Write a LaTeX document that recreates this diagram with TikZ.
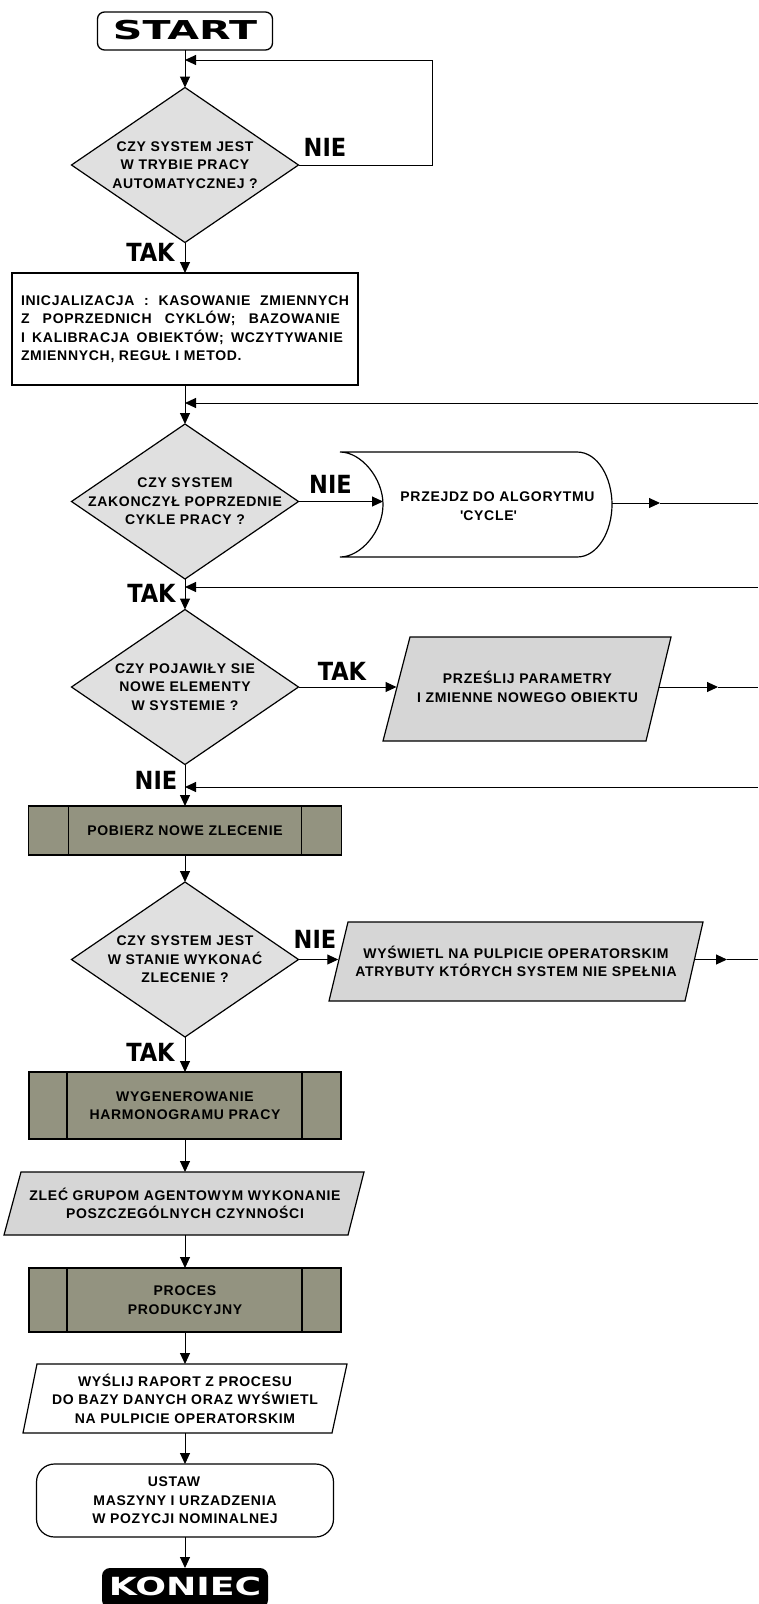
\documentclass[tikz,border=0pt]{standalone}
\usepackage{fontspec}
\usepackage{graphicx}
\usetikzlibrary{shapes.geometric,arrows.meta}
\newfontfamily\bodyfont{Liberation Sans}[LetterSpace=5]
\newfontfamily\labfont{DejaVu Sans Condensed}
\newfontfamily\titlefont{DejaVu Sans}
\definecolor{dfill}{RGB}{224,224,224}
\definecolor{pfill}{RGB}{214,214,214}
\definecolor{bfill}{RGB}{147,147,128}
\begin{document}
\begin{tikzpicture}[x=1pt,y=-1pt,
  every node/.style={inner sep=0pt, outer sep=0pt},
  txt/.style={font=\bodyfont\bfseries\fontsize{14}{18.5}\selectfont, align=center},
  dec/.style={diamond, draw, line width=1.2pt, fill=dfill, minimum width=227pt, minimum height=155pt, inner sep=-40pt, txt},
  shp/.style={draw, line width=1.2pt},
  box/.style={rectangle, draw, line width=1.2pt, fill=white, txt},
  pbox/.style={rectangle, draw, line width=1.2pt, fill=bfill, txt},
  lab/.style={font=\labfont\bfseries\fontsize{25}{25}\selectfont},
  conn/.style={line width=1pt},
  arr/.style={conn, -{Triangle[length=11pt,width=10pt]}}
]
\useasboundingbox (0,0) rectangle (758,1604);
\fill[white] (0,0) rectangle (758,1604);

% START
\node[draw, line width=1.3pt, rounded corners=7pt, minimum width=175pt, minimum height=38pt] (start) at (185,31)
  {\raisebox{3pt}{\scalebox{1.58}[1]{\titlefont\bfseries\fontsize{26}{26}\selectfont START}}};

% decision 1
\node[dec] (d1) at (185,165) {CZY SYSTEM JEST\\W TRYBIE PRACY\\AUTOMATYCZNEJ ?};
\coordinate (j1) at (185,60);
\coordinate (l1) at (432,60);
\draw[arr] (start.south) -- (d1.north);
\draw[arr] (d1.east) -| (l1) -- (j1);
\node[lab] (n1) at (325,147) {NIE};
\node[lab] (t1) at (150.5,252) {TAK};

% init box
\node[box, minimum width=346pt, minimum height=112pt, align=left] (init) at (185,329)
  {\makebox[328pt][s]{INICJALIZACJA : KASOWANIE ZMIENNYCH}\\
   \makebox[319pt][s]{Z POPRZEDNICH CYKLÓW; BAZOWANIE}\\
   \makebox[322pt][s]{I KALIBRACJA OBIEKTÓW; WCZYTYWANIE}\\
   ZMIENNYCH, REGUŁ I METOD.};
\draw[arr] (d1.south) -- (init.north);

% decision 2
\node[dec] (d2) at (185,501.5) {CZY SYSTEM\\ZAKONCZYŁ POPRZEDNIE\\CYKLE PRACY ?};
\draw[arr] (init.south) -- (d2.north);
\coordinate (j2) at (185,403);
\coordinate (r1) at (758,403);
\draw[arr] (r1) -- (j2);
\node[lab] (n2) at (330.5,484.5) {NIE};

% cycle (stored data shape)
\draw[shp, fill=white] (340,452) -- (577,452)
  .. controls (598,452) and (612,478) .. (612,504.5)
  .. controls (612,531) and (598,557) .. (577,557)
  -- (340,557)
  .. controls (361,557) and (383,531) .. (383,504.5)
  .. controls (383,478) and (361,452) .. (340,452) -- cycle;
\node[txt, minimum width=229pt, minimum height=105pt] (cyc) at (497.5,506)
  {PRZEJDZ DO ALGORYTMU\\\textquotesingle CYCLE\textquotesingle\hspace*{18pt}};
\draw[arr] (d2.east) -- (d2.east -| cyc.west);
\coordinate (m1) at (660,503);
\coordinate (e1) at (758,503);
\draw[arr] (cyc.east |- m1) -- (m1);
\draw[conn] (m1) -- (e1);

% decision 3
\node[lab] (t2) at (151.5,593.5) {TAK};
\node[dec] (d3) at (185,687) {CZY POJAWIŁY SIE\\NOWE ELEMENTY\\W SYSTEMIE ?};
\draw[arr] (d2.south) -- (d3.north);
\coordinate (j3) at (185,587);
\coordinate (r2) at (758,587);
\draw[arr] (r2) -- (j3);
\node[lab] (t3) at (342,671.5) {TAK};

% parallelogram 1
\draw[shp, fill=pfill] (410,637) -- (671,637) -- (646,741) -- (383,741) -- cycle;
\node[txt, minimum width=262pt, minimum height=104pt] (p1) at (527.5,687)
  {PRZEŚLIJ PARAMETRY\\I ZMIENNE NOWEGO OBIEKTU};
\draw[arr] (d3.east) -- (d3.east -| p1.west);
\coordinate (m2) at (718,687);
\coordinate (e2) at (758,687);
\draw[arr] (p1.east) -- (m2);
\draw[conn] (m2) -- (e2);

% pobierz
\node[lab] (n3) at (156,780) {NIE};
\node[pbox, minimum width=313pt, minimum height=49pt] (pb1) at (185,830.5) {POBIERZ NOWE ZLECENIE};
\draw[shp] ([xshift=40pt]pb1.north west) -- ([xshift=40pt]pb1.south west);
\draw[shp] ([xshift=-40pt]pb1.north east) -- ([xshift=-40pt]pb1.south east);
\draw[arr] (d3.south) -- (pb1.north);
\coordinate (j4) at (185,787);
\coordinate (r3) at (758,787);
\draw[arr] (r3) -- (j4);

% decision 4
\node[dec] (d4) at (185,959.5) {CZY SYSTEM JEST\\W STANIE WYKONAĆ\\ZLECENIE ?};
\draw[arr] (pb1.south) -- (d4.north);
\node[lab] (n4) at (315,939) {NIE};
\draw[shp, fill=pfill] (348,922) -- (703,922) -- (685,1001) -- (329,1001) -- cycle;
\node[txt, minimum width=355.5pt, minimum height=79pt] (p2) at (516,961.5)
  {WYŚWIETL NA PULPICIE OPERATORSKIM\\ATRYBUTY KTÓRYCH SYSTEM NIE SPEŁNIA};
\draw[arr] (d4.east) -- (d4.east -| p2.west);
\coordinate (m3) at (727,959.5);
\coordinate (e3) at (758,959.5);
\draw[arr] (p2.east |- m3) -- (m3);
\draw[conn] (m3) -- (e3);

% harmonogram
\node[lab] (t4) at (150.5,1052) {TAK};
\node[pbox, minimum width=312pt, minimum height=67pt] (pb2) at (185,1105.5) {WYGENEROWANIE\\HARMONOGRAMU PRACY};
\draw[shp] ([xshift=38pt]pb2.north west) -- ([xshift=38pt]pb2.south west);
\draw[shp] ([xshift=-39pt]pb2.north east) -- ([xshift=-39pt]pb2.south east);
\draw[arr] (d4.south) -- (pb2.north);

% zlec
\draw[shp, fill=pfill] (21,1172) -- (364,1172) -- (348,1235) -- (4,1235) -- cycle;
\node[txt, minimum width=330pt, minimum height=63pt] (p3) at (185,1203.5)
  {ZLEĆ GRUPOM AGENTOWYM WYKONANIE\\POSZCZEGÓLNYCH CZYNNOŚCI};
\draw[arr] (pb2.south) -- (p3.north);

% proces
\node[pbox, minimum width=312pt, minimum height=64pt] (pb3) at (185,1300) {PROCES\\PRODUKCYJNY};
\draw[shp] ([xshift=38pt]pb3.north west) -- ([xshift=38pt]pb3.south west);
\draw[shp] ([xshift=-39pt]pb3.north east) -- ([xshift=-39pt]pb3.south east);
\draw[arr] (p3.south) -- (pb3.north);

% raport
\draw[shp, fill=white] (37,1364) -- (347,1364) -- (332,1433) -- (23,1433) -- cycle;
\node[txt, minimum width=300pt, minimum height=69pt] (p4) at (185,1398.5)
  {WYŚLIJ RAPORT Z PROCESU\\DO BAZY DANYCH ORAZ WYŚWIETL\\NA PULPICIE OPERATORSKIM};
\draw[arr] (pb3.south) -- (p4.north);

% ustaw
\node[box, rounded corners=18pt, minimum width=297pt, minimum height=73pt] (rb) at (185,1500.5)
  {USTAW\hspace*{22pt}\\MASZYNY I URZADZENIA\hspace*{8pt}\\W POZYCJI NOMINALNEJ};
\draw[arr] (p4.south) -- (rb.north);

% koniec
\node[fill=black, rounded corners=8pt, minimum width=166pt, minimum height=40pt, text=white] (end) at (185,1588)
  {\raisebox{3pt}{\scalebox{1.45}[1]{\titlefont\bfseries\fontsize{25}{25}\selectfont KONIEC}}};
\draw[arr] (rb.south) -- (end.north);
\end{tikzpicture}
\end{document}
